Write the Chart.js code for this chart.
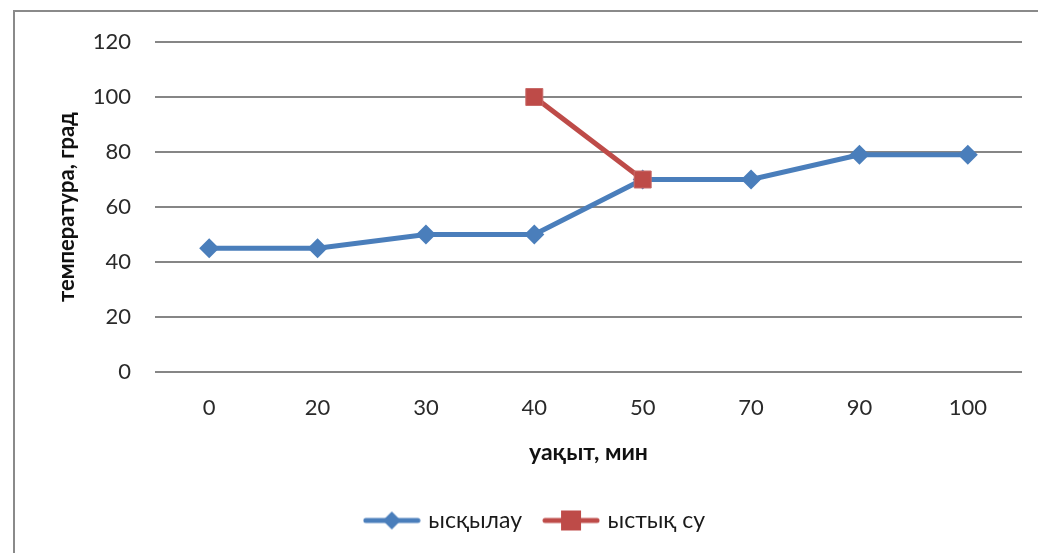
<!DOCTYPE html>
<html>
<head>
<meta charset="utf-8">
<script src="https://cdn.jsdelivr.net/npm/chart.js@4/dist/chart.umd.min.js"></script>
<style>
html,body{margin:0;padding:0;background:#fff;}
#wrap{width:1038px;height:553px;position:relative;}
</style>
</head>
<body>
<div id="wrap"><canvas id="c" width="1038" height="553"></canvas></div>
<script>
const categories = ['0','20','30','40','50','70','90','100'];
const seriesRubbing = [45,45,50,50,70,70,79,79];
const seriesHotWater = [null,null,null,100,70,null,null,null];
const seriesNames = ['ысқылау','ыстық су'];
const yTicks = [0,20,40,60,80,100,120];

const BLUE = '#4a7ebb';
const RED = '#be4b48';
const FONT = 'Lato, "Open Sans", sans-serif';

function legendIcon(color, shape){
  const cv = document.createElement('canvas');
  cv.width = 58; cv.height = 22;
  const g = cv.getContext('2d');
  g.strokeStyle = color; g.lineWidth = 5; g.lineCap = 'round';
  g.beginPath(); g.moveTo(3,11); g.lineTo(55,11); g.stroke();
  g.fillStyle = color;
  if(shape==='diamond'){
    g.beginPath(); g.moveTo(29,2); g.lineTo(38,11); g.lineTo(29,20); g.lineTo(20,11); g.closePath(); g.fill();
  } else {
    g.fillRect(19,1,20,20);
  }
  return cv;
}
const icons = [legendIcon(BLUE,'diamond'), legendIcon(RED,'square')];

const framePlugin = {
  id:'frame',
  beforeDraw(chart){
    const ctx = chart.ctx;
    ctx.save();
    ctx.strokeStyle = '#8a8a8a'; ctx.lineWidth = 2;
    ctx.strokeRect(14, 11, 1200, 700);
    ctx.restore();
  }
};

new Chart(document.getElementById('c'), {
  type:'line',
  data:{
    labels: categories,
    datasets:[
      {label: seriesNames[0], data: seriesRubbing, borderColor: BLUE, backgroundColor: BLUE, order:2,
       borderWidth:5, pointStyle:'rectRot', pointRadius:10, pointBorderWidth:0, tension:0},
      {label: seriesNames[1], data: seriesHotWater, borderColor: RED, backgroundColor: RED, order:1,
       borderWidth:5, pointStyle:'rect', pointRadius:12, pointBorderWidth:1, pointBorderColor:'#c86a68', tension:0}
    ]
  },
  options:{
    responsive:false, animation:false,
    devicePixelRatio:1,
    layout:{padding:{left:50,right:16,top:42,bottom:11}},
    plugins:{
      tooltip:{enabled:false},
      legend:{
        position:'bottom',
        labels:{
          usePointStyle:true, pointStyleWidth:50, boxHeight:20,
          font:{family:FONT,size:23}, color:'#1a1a1a', padding:24,
          generateLabels(chart){
            return chart.data.datasets.map((d,i)=>({
              text:d.label, pointStyle:icons[i], fillStyle:d.borderColor, strokeStyle:d.borderColor,
              lineWidth:0, datasetIndex:i, hidden:false, fontColor:'#1a1a1a'
            }));
          }
        }
      }
    },
    scales:{
      x:{
        offset:true,
        grid:{display:false, drawTicks:false},
        border:{display:false},
        ticks:{font:{family:FONT,size:22}, color:'#2a2a2a', padding:23},
        title:{display:true, text:'уақыт, мин', font:{family:FONT,size:23,weight:'bold'}, color:'#111', padding:{top:2,bottom:19}},
        afterFit(s){ s.height = 113; }
      },
      y:{
        min:0, max:120,
        afterBuildTicks(s){ s.ticks = yTicks.map(v=>({value:v})); },
        grid:{color:'#868686', lineWidth:2, drawTicks:false},
        border:{display:false},
        ticks:{font:{family:FONT,size:22}, color:'#2a2a2a', padding:24},
        title:{display:true, text:'температура, град', font:{family:FONT,size:22,weight:'bold'}, color:'#111', padding:{bottom:6}},
        afterFit(s){ s.width = 155-50; }
      }
    }
  },
  plugins:[framePlugin]
});
</script>
</body>
</html>
